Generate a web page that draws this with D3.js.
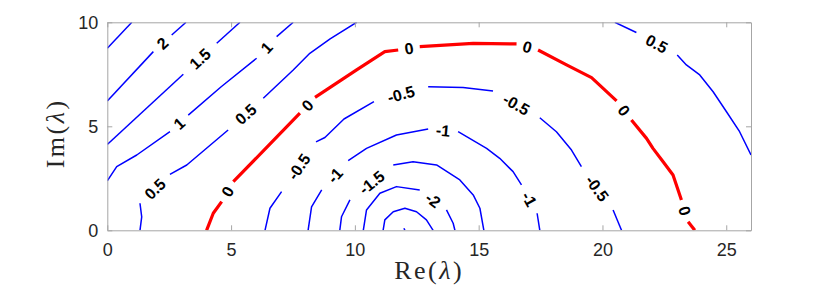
<!DOCTYPE html>
<html>

<head>
    <meta charset="utf-8" />
    <title>Contour</title>
    <script src="https://d3js.org/d3.v7.min.js"></script>
    <style>
        body {
            margin: 0;
            background: #fff;
        }

        .axis text {
            font-family: "Liberation Sans", Arial, sans-serif;
            font-size: 18px;
            fill: #262626;
        }

        .axis path,
        .axis line {
            stroke: #a6a6a6;
            stroke-width: 1px;
        }

        .clabel {
            font-family: "Liberation Sans", Arial, sans-serif;
            font-size: 16px;
            font-weight: bold;
            fill: #000;
        }

        .axlabel {
            font-family: "Liberation Serif", "Times New Roman", serif;
            font-size: 26px;
            letter-spacing: 2.5px;
            fill: #262626;
        }
    </style>
</head>

<body>
    <div id="my_dataviz"></div>
</body>

</html>
<script>
    // set the dimensions and margins of the graph
    const margin = { top: 22.3, right: 79, bottom: 66.7, left: 107.3 },
        width = 830 - margin.left - margin.right,
        height = 297 - margin.top - margin.bottom;

    // axis ranges and ticks
    const xDomain = [0, 26];
    const yDomain = [0, 10];
    const xTicks = [0, 5, 10, 15, 20, 25];
    const yTicks = [0, 5, 10];

    // contour lines, [Re, Im] points.
    // each line is a list of pieces, a label sits in every gap between two pieces
    const lvl2p5 = [[[0, 8.75], [0.99, 10]]];
    const lvl2 = [
        [[0, 6.22], [1.86, 8.59]],
        [[2.60, 9.39], [3.18, 10]]
    ];
    const lvl1p5 = [
        [[0, 4.13], [3.07, 7.50]],
        [[4.42, 8.99], [5.36, 10]]
    ];
    const lvl1 = [
        [[0, 2.38], [0.38, 3.06], [1.19, 3.62], [2.53, 4.74]],
        [[3.27, 5.54], [4.60, 6.90], [6.03, 8.27]],
        [[6.84, 9.31], [7.51, 10]]
    ];
    const lvl0p5Left = [
        [[1.32, 0], [1.39, 0.65], [1.32, 1.30]],
        [[2.53, 2.69], [3.21, 3.14], [4.88, 4.82]],
        [[6.30, 6.35], [7.51, 7.71], [8.18, 8.51], [9.00, 9.20], [10.07, 10]]
    ];
    const lvl0p5Right = [
        [[20.50, 10], [21.37, 9.51]],
        [[23.02, 8.43], [23.39, 7.95], [23.93, 7.47], [24.47, 6.66], [25.01, 5.70], [25.54, 4.74], [26, 3.62]]
    ];
    const lvl0 = [
        [[4.01, 0], [4.28, 0.82], [4.62, 1.38]],
        [[5.09, 2.34], [6.37, 3.90], [7.78, 5.63]],
        [[8.39, 6.39], [10.07, 7.71], [11.21, 8.59], [11.75, 8.67]],
        [[12.62, 8.83], [14.78, 8.99], [16.53, 8.96]],
        [[17.40, 8.67], [18.55, 7.95], [19.56, 7.34], [20.57, 6.22]],
        [[21.17, 5.30], [21.78, 4.42], [22.04, 3.94], [22.45, 3.30], [22.85, 2.66], [23.19, 1.46]],
        [[23.46, 0.41], [23.73, 0]]
    ];
    const lvlm0p5 = [
        [[6.37, 0], [6.57, 1.06], [7.04, 1.86]],
        [[8.43, 4.25], [8.79, 4.46], [9.56, 5.35], [10.77, 6.19]],
        [[12.96, 6.90], [14.37, 6.86], [15.58, 6.70]],
        [[17.47, 5.41], [18.14, 4.74], [18.75, 3.86], [19.15, 3.06]],
        [[20.43, 0.98], [20.77, 0]]
    ];
    const lvlm1 = [
        [[8.11, 0], [8.25, 1.13], [8.66, 1.94]],
        [[9.73, 3.35], [10.47, 3.94], [11.68, 4.58], [12.96, 4.87]],
        [[14.17, 4.74], [15.32, 3.94], [15.85, 3.46], [16.39, 2.82], [16.73, 2.18]],
        [[17.36, 0.82], [17.47, 0]]
    ];
    const lvlm1p5 = [
        [[9.39, 0], [9.46, 0.65], [9.80, 1.46]],
        [[11.55, 3.14], [12.35, 3.30], [13.30, 3.14], [14.24, 2.42], [14.78, 1.70], [15.05, 1.06], [15.21, 0]]
    ];
    const lvlm2 = [
        [[10.34, 0], [10.47, 0.98], [11.01, 1.78], [11.68, 2.10], [12.62, 1.94]],
        [[13.70, 0.98], [13.97, 0.34], [14.04, 0]]
    ];
    const lvlm2p5 = [[[11.14, 0], [11.21, 0.50], [11.55, 0.89], [12.02, 1.06], [12.49, 0.89], [12.89, 0.50], [13.16, 0]]];
    const lvlm3 = [[[11.98, 0.10], [12.02, 0]]];

    const contours = [
        { level: 2.5, pieces: lvl2p5 },
        { level: 2, pieces: lvl2 },
        { level: 1.5, pieces: lvl1p5 },
        { level: 1, pieces: lvl1 },
        { level: 0.5, pieces: lvl0p5Left },
        { level: 0.5, pieces: lvl0p5Right },
        { level: 0, pieces: lvl0 },
        { level: -0.5, pieces: lvlm0p5 },
        { level: -1, pieces: lvlm1 },
        { level: -1.5, pieces: lvlm1p5 },
        { level: -2, pieces: lvlm2 },
        { level: -2.5, pieces: lvlm2p5 },
        { level: -3, pieces: lvlm3 }
    ];

    const svg = d3.select("#my_dataviz")
        .append("svg")
        .attr("width", width + margin.left + margin.right)
        .attr("height", height + margin.top + margin.bottom)
        .append("g")
        .attr("transform", `translate(${margin.left},${margin.top})`);

    const x = d3.scaleLinear().domain(xDomain).range([0, width]);
    const y = d3.scaleLinear().domain(yDomain).range([height, 0]);

    svg.append("defs").append("clipPath")
        .attr("id", "plotclip")
        .append("rect")
        .attr("width", width)
        .attr("height", height);

    const line = d3.line()
        .x(d => x(d[0]))
        .y(d => y(d[1]));

    const plot = svg.append("g").attr("clip-path", "url(#plotclip)");

    contours.forEach(c => {
        const isZero = c.level === 0;
        plot.append("g")
            .selectAll("path")
            .data(c.pieces)
            .join("path")
            .attr("d", line)
            .attr("fill", "none")
            .attr("stroke", isZero ? "#ff0000" : "#0000ff")
            .attr("stroke-width", isZero ? 3.2 : 1.5)
            .attr("stroke-linejoin", "round")
            .attr("stroke-linecap", "butt");

        // labels go in the gaps between consecutive pieces
        for (let i = 0; i < c.pieces.length - 1; i++) {
            const a = c.pieces[i][c.pieces[i].length - 1];
            const b = c.pieces[i + 1][0];
            const ax = x(a[0]), ay = y(a[1]), bx = x(b[0]), by = y(b[1]);
            let ang = Math.atan2(by - ay, bx - ax) * 180 / Math.PI;
            if (ang > 90) ang -= 180;
            if (ang < -90) ang += 180;
            svg.append("text")
                .attr("class", "clabel")
                .attr("text-anchor", "middle")
                .attr("dy", "0.36em")
                .attr("transform", `translate(${(ax + bx) / 2},${(ay + by) / 2}) rotate(${ang})`)
                .text(String(c.level));
        }
    });

    // axes, ticks inside on all four sides
    svg.append("g")
        .attr("class", "axis")
        .attr("transform", `translate(0, ${height})`)
        .call(d3.axisBottom(x).tickValues(xTicks).tickSizeInner(-5).tickSizeOuter(0).tickPadding(13));
    svg.append("g")
        .attr("class", "axis")
        .call(d3.axisTop(x).tickValues(xTicks).tickSizeInner(-5).tickSizeOuter(0).tickFormat(""));
    svg.append("g")
        .attr("class", "axis")
        .call(d3.axisLeft(y).tickValues(yTicks).tickSizeInner(-5).tickSizeOuter(0).tickPadding(9));
    svg.append("g")
        .attr("class", "axis")
        .attr("transform", `translate(${width}, 0)`)
        .call(d3.axisRight(y).tickValues(yTicks).tickSizeInner(-5).tickSizeOuter(0).tickFormat(""));

    // axis titles
    const xt = svg.append("text")
        .attr("class", "axlabel")
        .attr("text-anchor", "middle")
        .attr("x", x(13))
        .attr("y", height + 49);
    xt.append("tspan").text("Re(");
    xt.append("tspan").attr("font-style", "italic").text("λ");
    xt.append("tspan").text(")");

    const yt = svg.append("text")
        .attr("class", "axlabel")
        .attr("text-anchor", "middle")
        .attr("transform", `translate(${-43}, ${y(5) + 7}) rotate(-90)`);
    yt.append("tspan").text("Im(");
    yt.append("tspan").attr("font-style", "italic").text("λ");
    yt.append("tspan").text(")");
</script>
